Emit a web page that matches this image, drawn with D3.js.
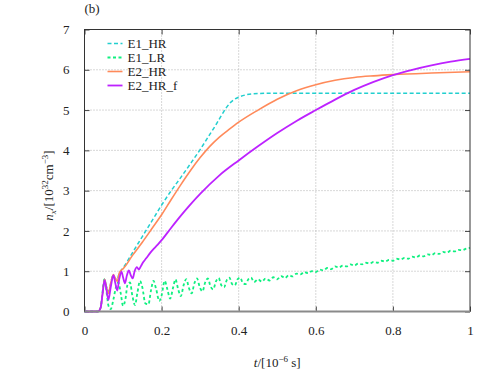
<!DOCTYPE html>
<html>
<head>
<meta charset="utf-8">
<script src="https://cdn.jsdelivr.net/npm/d3@7"></script>
<style>
  body { margin: 0; background: #fff; }
</style>
</head>
<body>
<script>
// Set Dimensions

const width = 491;
const height = 373;
const margin = {top: 29.5, right: 21, bottom: 61.5, left: 84.5};
const xMax = width - margin.left - margin.right;
const yMax = height - margin.top - margin.bottom;

// Data: [t, n_x]

const xTicks = [0, 0.2, 0.4, 0.6, 0.8, 1];
const yTicks = [0, 1, 2, 3, 4, 5, 6, 7];

const e1HR = [[0,0],[0.035,0],[0.042,0.1],[0.047,0.45],[0.052,0.8],[0.057,0.62],[0.063,0.5],[0.068,0.7],
  [0.074,0.9],[0.079,0.82],[0.085,0.8],[0.09,0.95],[0.095,1.02],[0.1,1.08],[0.125,1.47],[0.15,1.86],
  [0.175,2.25],[0.2,2.64],[0.225,3.0],[0.25,3.33],[0.275,3.67],[0.3,4.02],[0.32,4.32],[0.34,4.62],
  [0.356,4.88],[0.368,5.06],[0.378,5.18],[0.388,5.26],[0.4,5.32],[0.42,5.38],[0.45,5.41],[0.5,5.42],
  [0.7,5.42],[1,5.42]];

const e1LR = [[0,0],[0.035,0],[0.042,0.1],[0.047,0.5],[0.052,0.8],[0.057,0.5],[0.062,0.15],[0.068,0.06],
  [0.075,0.3],[0.082,0.62],[0.088,0.72],[0.094,0.45],[0.1,0.14],[0.106,0.3],[0.112,0.68],[0.118,0.72],
  [0.124,0.4],[0.131,0.16],[0.137,0.45],[0.144,0.76],[0.15,0.6],[0.158,0.2],[0.166,0.18],[0.172,0.5],
  [0.179,0.76],[0.186,0.55],[0.194,0.26],[0.2,0.4],[0.208,0.76],[0.215,0.55],[0.222,0.32],[0.23,0.6],
  [0.236,0.8],[0.243,0.55],[0.25,0.38],[0.257,0.65],[0.264,0.8],[0.271,0.58],[0.278,0.45],[0.285,0.7],
  [0.292,0.82],[0.299,0.6],[0.306,0.5],[0.313,0.72],[0.32,0.82],[0.327,0.62],[0.334,0.55],[0.341,0.75],
  [0.348,0.83],[0.355,0.65],[0.362,0.6],[0.369,0.78],[0.376,0.84],[0.383,0.68],[0.39,0.65],[0.397,0.8],
  [0.404,0.84],[0.411,0.7],[0.418,0.68],[0.425,0.8],[0.432,0.84],[0.44,0.73],[0.45,0.8],[0.46,0.74],
  [0.47,0.82],[0.48,0.77],[0.49,0.85],[0.5,0.8],[0.51,0.88],[0.52,0.83],[0.53,0.9],[0.54,0.87],
  [0.55,0.94],[0.56,0.92],[0.57,0.98],[0.58,0.95],[0.59,1.0],[0.6,0.98],[0.61,1.04],[0.62,1.02],
  [0.63,1.08],[0.64,1.05],[0.65,1.12],[0.66,1.09],[0.67,1.14],[0.68,1.12],[0.69,1.17],[0.7,1.14],
  [0.71,1.19],[0.72,1.17],[0.73,1.21],[0.74,1.19],[0.75,1.23],[0.76,1.21],[0.77,1.26],[0.78,1.24],
  [0.79,1.28],[0.8,1.26],[0.81,1.31],[0.82,1.29],[0.83,1.33],[0.84,1.31],[0.85,1.36],[0.86,1.34],
  [0.87,1.39],[0.88,1.37],[0.89,1.42],[0.9,1.4],[0.91,1.45],[0.92,1.43],[0.93,1.48],[0.94,1.46],
  [0.95,1.51],[0.96,1.49],[0.97,1.53],[0.98,1.52],[0.99,1.56],[1.0,1.58]];

const e2HR = [[0,0],[0.035,0],[0.042,0.1],[0.047,0.45],[0.052,0.8],[0.057,0.6],[0.062,0.45],[0.068,0.7],
  [0.075,0.92],[0.08,0.82],[0.085,0.75],[0.09,0.95],[0.095,1.02],[0.1,1.06],[0.125,1.4],[0.15,1.72],
  [0.175,2.06],[0.2,2.4],[0.225,2.78],[0.25,3.15],[0.275,3.5],[0.3,3.82],[0.325,4.1],[0.35,4.33],
  [0.375,4.52],[0.4,4.7],[0.45,5.0],[0.5,5.27],[0.55,5.48],[0.6,5.63],[0.65,5.74],[0.7,5.81],
  [0.75,5.85],[0.8,5.88],[0.9,5.92],[1,5.95]];

const e2HRf = [[0,0],[0.035,0],[0.042,0.1],[0.047,0.45],[0.052,0.78],[0.057,0.55],[0.062,0.29],[0.068,0.6],
  [0.075,0.9],[0.08,0.7],[0.085,0.52],[0.09,0.8],[0.096,0.99],[0.1,0.85],[0.105,0.7],[0.11,0.9],
  [0.115,1.02],[0.12,0.9],[0.125,0.82],[0.13,1.0],[0.136,1.1],[0.141,1.04],[0.146,1.12],[0.152,1.22],
  [0.16,1.32],[0.17,1.45],[0.18,1.56],[0.19,1.66],[0.2,1.77],[0.225,2.08],[0.25,2.38],[0.275,2.66],
  [0.3,2.92],[0.35,3.38],[0.4,3.75],[0.45,4.1],[0.5,4.43],[0.55,4.73],[0.6,5.0],[0.65,5.26],
  [0.7,5.5],[0.75,5.7],[0.8,5.87],[0.85,6.0],[0.9,6.11],[0.95,6.2],[1.0,6.27]];

const seriesNames = ["E1_HR", "E1_LR", "E2_HR", "E2_HR_f"];

const series = [
  {name: seriesNames[0], data: e1HR, color: "#22cfcf", dash: "4,2.5", width: 1.5},
  {name: seriesNames[1], data: e1LR, color: "#10f080", dash: "3,2.5", width: 1.8},
  {name: seriesNames[2], data: e2HR, color: "#ff8a5a", dash: null, width: 1.6},
  {name: seriesNames[3], data: e2HRf, color: "#bd22ff", dash: null, width: 1.8}
];

const serif = "'Liberation Serif'";

// apply the serif face to a text selection
function font(sel, size) {
  sel.attr("font-family", serif)
    .style("font-family", serif)
    .attr("font-size", size)
    .attr("fill", "#222");
}

const svg = d3.select("body")
  .append("svg")
  .attr("width", width)
  .attr("height", height)
  .append("g")
  .attr("transform", "translate(" + margin.left + "," + margin.top + ")");

// Scales

const x = d3.scaleLinear().domain([0, 1]).range([0, xMax]);
const y = d3.scaleLinear().domain([0, 7]).range([yMax, 0]);

// Grid (dotted)

svg.append("g")
  .selectAll("line")
  .data(xTicks.slice(1, -1))
  .enter()
  .append("line")
  .attr("x1", d => x(d)).attr("x2", d => x(d))
  .attr("y1", 0).attr("y2", yMax)
  .attr("stroke", "#b0b0b0")
  .attr("stroke-dasharray", "1,2");

svg.append("g")
  .selectAll("line")
  .data(yTicks.slice(1, -1))
  .enter()
  .append("line")
  .attr("y1", d => y(d)).attr("y2", d => y(d))
  .attr("x1", 0).attr("x2", xMax)
  .attr("stroke", "#b0b0b0")
  .attr("stroke-dasharray", "1,2");

// Axes with inward ticks, all four sides

function styleAxis(g) {
  g.attr("font-family", null);
  g.select(".domain").remove();
  g.selectAll(".tick line").attr("stroke", "#444");
  g.selectAll(".tick text").call(font, 13);
}

svg.append("g")
  .attr("transform", "translate(0," + yMax + ")")
  .call(d3.axisBottom(x).tickValues(xTicks).tickFormat(d3.format("")).tickSizeInner(-5).tickPadding(14))
  .call(styleAxis);

svg.append("g")
  .call(d3.axisTop(x).tickValues(xTicks).tickFormat("").tickSizeInner(-5))
  .call(styleAxis);

svg.append("g")
  .call(d3.axisLeft(y).tickValues(yTicks).tickFormat(d3.format("d")).tickSizeInner(-5).tickPadding(15))
  .call(styleAxis);

svg.append("g")
  .attr("transform", "translate(" + xMax + ",0)")
  .call(d3.axisRight(y).tickValues(yTicks).tickFormat("").tickSizeInner(-5))
  .call(styleAxis);

// Curves

const line = d3.line()
  .curve(d3.curveMonotoneX)
  .x(d => x(d[0]))
  .y(d => y(d[1]));

series.forEach(s => {
  svg.append("path")
    .datum(s.data)
    .attr("fill", "none")
    .attr("stroke", s.color)
    .attr("stroke-width", s.width)
    .attr("stroke-dasharray", s.dash)
    .attr("stroke-linejoin", "round")
    .attr("d", line);
});

// Frame

svg.append("rect")
  .attr("width", xMax)
  .attr("height", yMax)
  .attr("fill", "none")
  .attr("stroke", "#333")
  .attr("stroke-width", 1);

svg.append("line")
  .attr("x1", 0).attr("x2", xMax)
  .attr("y1", yMax).attr("y2", yMax)
  .attr("stroke", "#8a8a8a")
  .attr("stroke-width", 2);

// Legend

const legend = svg.append("g").attr("transform", "translate(23,14)");

series.forEach((s, i) => {
  const row = legend.append("g").attr("transform", "translate(0," + i * 14 + ")");
  row.append("line")
    .attr("x1", 0).attr("x2", 15)
    .attr("y1", 0).attr("y2", 0)
    .attr("stroke", s.color)
    .attr("stroke-width", s.width)
    .attr("stroke-dasharray", s.dash);
  row.append("text")
    .attr("x", 20)
    .attr("y", 4.5)
    .call(font, 13)
    .text(s.name);
});

// Labels

svg.append("text")
  .attr("x", 0)
  .attr("y", -17)
  .call(font, 13)
  .text("(b)");

const xLabel = svg.append("text")
  .attr("x", xMax / 2)
  .attr("y", yMax + 55)
  .attr("text-anchor", "middle")
  .call(font, 13);
xLabel.append("tspan").attr("font-style", "italic").text("t");
xLabel.append("tspan").text("/[10");
xLabel.append("tspan").attr("font-size", 9).attr("dy", -5).text("−6");
xLabel.append("tspan").attr("dy", 5).text(" s]");

const yLabel = svg.append("text")
  .attr("transform", "translate(-32," + (yMax / 2 + 15) + ") rotate(-90)")
  .attr("text-anchor", "middle")
  .call(font, 13);
yLabel.append("tspan").attr("font-style", "italic").text("n");
yLabel.append("tspan").attr("font-style", "italic").attr("font-size", 9).attr("dy", 3).text("x");
yLabel.append("tspan").attr("dy", -3).text("/[10");
yLabel.append("tspan").attr("font-size", 9).attr("dy", -5).text("32");
yLabel.append("tspan").attr("dy", 5).text("cm");
yLabel.append("tspan").attr("font-size", 9).attr("dy", -5).text("−3");
yLabel.append("tspan").attr("dy", 5).text("]");
</script>
</body>
</html>
